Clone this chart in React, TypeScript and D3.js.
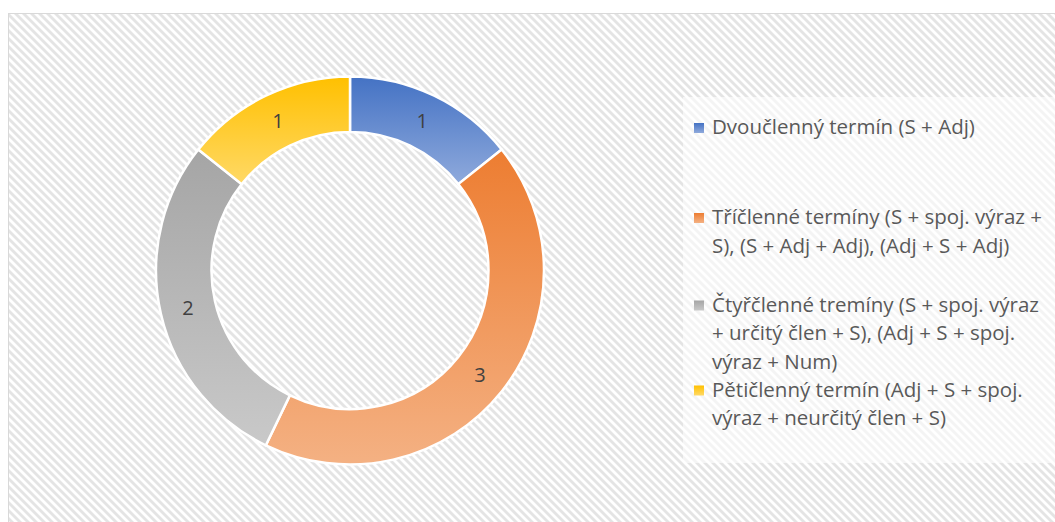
import React from "react";
import * as d3 from "d3";

const categoryLines: string[][] = [
  ["Dvoučlenný termín (S + Adj)"],
  ["Tříčlenné termíny (S + spoj. výraz +", "S), (S + Adj + Adj), (Adj + S + Adj)"],
  ["Čtyřčlenné tremíny (S + spoj. výraz", "+ určitý člen + S), (Adj + S + spoj.", "výraz + Num)"],
  ["Pětičlenný termín (Adj + S + spoj.", "výraz + neurčitý člen + S)"],
];
const values: number[] = [1, 3, 2, 1];
const colorTop = ["#4472C4", "#ED7D31", "#A5A5A5", "#FFC000"];
const colorBottom = ["#8FAADC", "#F4B183", "#C9C9C9", "#FFD966"];

const W = 1055;
const H = 522;
const cx = 350;
const cy = 270.5;
const outerR = 194;
const innerR = 138.5;

const legendX = 694;
const legendTextX = 712;
const lineH = 28.6;
const entryFirstBaseline = [134, 224, 311.5, 396.5];

export default function App() {
  const pie = d3.pie<number>().sort(null).value((d) => d)(values);
  const arc = d3.arc<d3.PieArcDatum<number>>().innerRadius(innerR).outerRadius(outerR);
  const labelArc = d3
    .arc<d3.PieArcDatum<number>>()
    .innerRadius((innerR + outerR) / 2)
    .outerRadius((innerR + outerR) / 2);

  return (
    <svg
      width={W}
      height={H}
      style={{ position: "fixed", left: 0, top: 0, display: "block" }}
      fontFamily="'Open Sans', Lato, sans-serif"
    >
      <defs>
        <pattern id="hatch" width={8} height={8} patternUnits="userSpaceOnUse">
          <rect width={8} height={8} fill="#ffffff" />
          <polygon points="0,0 4,0 8,4 8,8" fill="#e4e4e4" />
          <polygon points="0,4 4,8 0,8" fill="#e4e4e4" />
        </pattern>
        {values.map((_, i) => (
          <linearGradient key={i} id={`g${i}`} x1="0" y1="0" x2="0" y2="1">
            <stop offset="0%" stopColor={colorTop[i]} />
            <stop offset="100%" stopColor={colorBottom[i]} />
          </linearGradient>
        ))}
      </defs>
      <rect x={0} y={0} width={W} height={H} fill="#ffffff" />
      <rect x={8.5} y={13.5} width={W} height={H} fill="url(#hatch)" stroke="#d9d9d9" strokeWidth={1} />

      <g transform={`translate(${cx},${cy})`}>
        {pie.map((d, i) => (
          <path key={i} d={arc(d) || ""} fill={`url(#g${i})`} stroke="#ffffff" strokeWidth={2.5} />
        ))}
        {pie.map((d, i) => {
          const [x, y] = labelArc.centroid(d);
          return (
            <text
              key={i}
              x={x}
              y={y}
              textAnchor="middle"
              dominantBaseline="central"
              fontSize={20}
              fill="#404040"
            >
              {values[i]}
            </text>
          );
        })}
      </g>

      <rect x={683} y={97} width={W - 683} height={366} fill="#ffffff" opacity={0.6} />

      {categoryLines.map((lines, i) => (
        <g key={i}>
          <rect
            x={legendX}
            y={entryFirstBaseline[i] - 11}
            width={10}
            height={10}
            fill={`url(#g${i})`}
          />
          {lines.map((ln, j) => (
            <text
              key={j}
              x={legendTextX}
              y={entryFirstBaseline[i] + j * lineH}
              fontSize={20.5}
              fill="#595959"
            >
              {ln}
            </text>
          ))}
        </g>
      ))}
    </svg>
  );
}
